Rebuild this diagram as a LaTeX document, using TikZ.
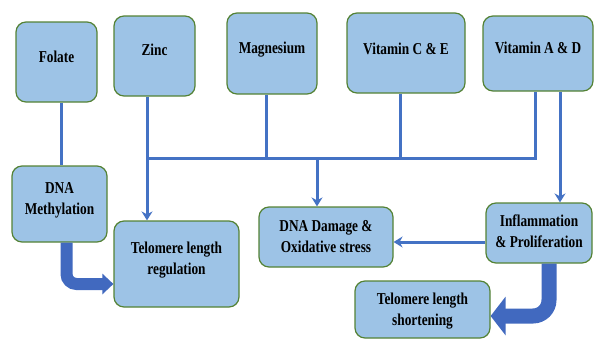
\documentclass[tikz,border=0pt]{standalone}
\usepackage{fontspec}
\setmainfont{Liberation Serif}
\usepackage{graphicx}
\usetikzlibrary{arrows.meta,calc}
\definecolor{boxfill}{HTML}{9DC3E6}
\definecolor{boxline}{HTML}{548235}
\definecolor{linkblue}{HTML}{4472C4}
\definecolor{blockblue}{HTML}{4169BF}
\newcommand\txt[2][0pt]{\raisebox{#1}[\height][\depth]{\scalebox{1}[1.25]{\begin{tabular}{@{}c@{}}#2\end{tabular}}}}
\begin{document}
\begin{tikzpicture}[x=1pt,y=-1pt,
  box/.style={draw=boxline, fill=boxfill, line width=1.2pt, rounded corners=10pt, inner sep=0pt,
    font=\fontsize{13.3}{16.8}\selectfont\bfseries},
  conn/.style={draw=linkblue, line width=3pt},
  arr/.style={conn, -{Stealth[length=9pt,width=11pt,inset=3pt]}},
  blockA/.style={draw=blockblue, line width=12pt, rounded corners=10pt, -{Triangle[length=11pt,width=20pt]}},
  blockB/.style={draw=blockblue, line width=15pt, rounded corners=16pt, -{Triangle[length=15pt,width=38pt]}}]
\useasboundingbox (0,0) rectangle (594,340);

\node[box, minimum width=81pt, minimum height=80pt] (folate) at (56.5,62) {\txt[4pt]{Folate}};
\node[box, minimum width=81pt, minimum height=80pt] (zinc) at (154.5,56) {\txt[5pt]{Zinc}};
\node[box, minimum width=90pt, minimum height=81pt] (mag) at (272,53.5) {\txt[4pt]{Magnesium}};
\node[box, minimum width=118pt, minimum height=80pt] (vitce) at (406,53) {\txt[3pt]{Vitamin C \& E}};
\node[box, minimum width=110pt, minimum height=75pt] (vitad) at (538,53.5) {\txt[4pt]{Vitamin A \& D}};
\node[box, minimum width=95pt, minimum height=76pt] (dnameth) at (59.5,204) {\txt[4pt]{DNA\\Methylation}};
\node[box, minimum width=125pt, minimum height=86pt] (telreg) at (176.5,264) {\txt[4pt]{Telomere length\\regulation}};
\node[box, minimum width=134pt, minimum height=60pt] (dnadam) at (326,237) {\txt[-1pt]{DNA Damage \&\\Oxidative stress}};
\node[box, minimum width=106pt, minimum height=60pt] (inflam) at (539,233) {\txt{Inflammation\\\& Proliferation}};
\node[box, minimum width=135pt, minimum height=57pt] (telshort) at (422.5,309.5) {\txt[-1pt]{Telomere length\\shortening}};

\coordinate (fx) at ([xshift=4.5pt]folate.south);
\draw[conn] (fx) -- (fx |- dnameth.north);

\coordinate (zx) at ([xshift=-7.5pt]zinc.south);
\coordinate (busL) at (zx |- 0,158);
\draw[arr] (zx) -- (zx |- telreg.north);

\coordinate (mx) at ([xshift=-6pt]mag.south);
\draw[conn] (mx) -- (mx |- busL);
\coordinate (cx) at ([xshift=-6pt]vitce.south);
\draw[conn] (cx) -- (cx |- busL);
\coordinate (ax) at ([xshift=-3pt]vitad.south);
\draw[conn] (ax) |- (busL);

\coordinate (dx) at ([xshift=-9pt]dnadam.north);
\draw[arr] (dx |- busL) -- (dx);

\coordinate (ax2) at ([xshift=22pt]vitad.south);
\draw[arr] (ax2) -- (ax2 |- inflam.north);

\coordinate (iw) at ([yshift=-9pt]inflam.west);
\draw[arr] (iw) -- (iw -| dnadam.east);

\draw[blockA] ([xshift=7pt]dnameth.south) |- ([yshift=-20pt]telreg.west);
\draw[blockB] ([xshift=10pt]inflam.south) |- ([yshift=-6.5pt]telshort.east);
\end{tikzpicture}
\end{document}
